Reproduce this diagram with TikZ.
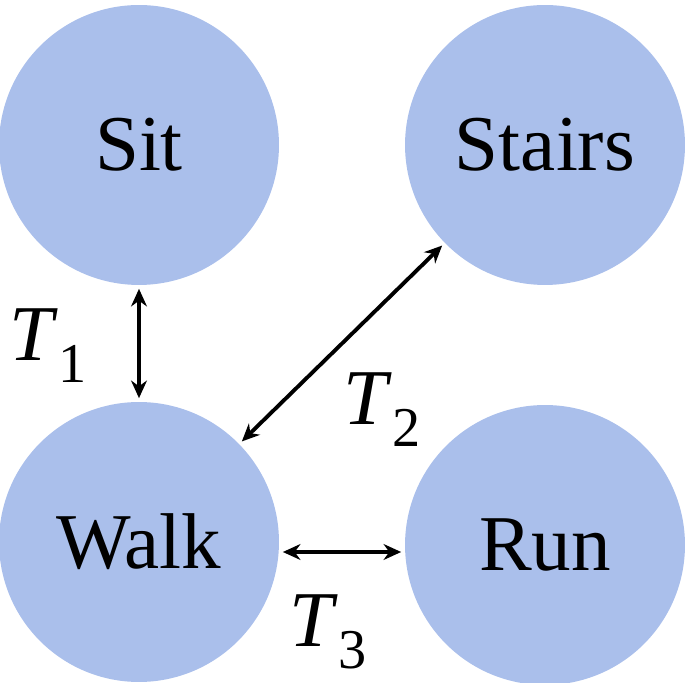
\documentclass[tikz,border=0pt]{standalone}
\usepackage{fontspec}
\setmainfont{Liberation Serif}
\usetikzlibrary{arrows.meta}
\definecolor{nodeblue}{HTML}{AABFEB}
\newcommand{\tlab}[1]{\textit{T}\raisebox{-0.28em}{\fontsize{32}{36}\selectfont #1}}
\begin{document}
\begin{tikzpicture}[x=0.02cm,y=0.02cm,
  st/.style={circle,fill=nodeblue,minimum size=5.6cm,inner sep=0pt,font=\fontsize{45}{54}\selectfont},
  ar/.style={{Stealth[length=10pt,width=9pt]}-{Stealth[length=10pt,width=9pt]},line width=2.2pt,shorten <=2pt,shorten >=2pt},
  lb/.style={font=\fontsize{45}{54}\selectfont}]
\useasboundingbox (0,0) rectangle (685,682);
\node[st] (sit) at (139,537) {Sit};
\node[st] (stairs) at (545,537) {Stairs};
\node[st] (walk) at (139,140) {Walk};
\node[st] (run) at (545,137) {Run};
\draw[ar] (sit) -- (walk);
\draw[ar] (walk) -- (stairs);
\draw[ar] (walk.east |- 0,130) -- (run.west |- 0,130);
\node[lb] (t1) at (48,336) {\tlab{1}};
\node[lb] (t2) at (382,272) {\tlab{2}};
\node[lb] (t3) at (328,50) {\tlab{3}};
\end{tikzpicture}
\end{document}
